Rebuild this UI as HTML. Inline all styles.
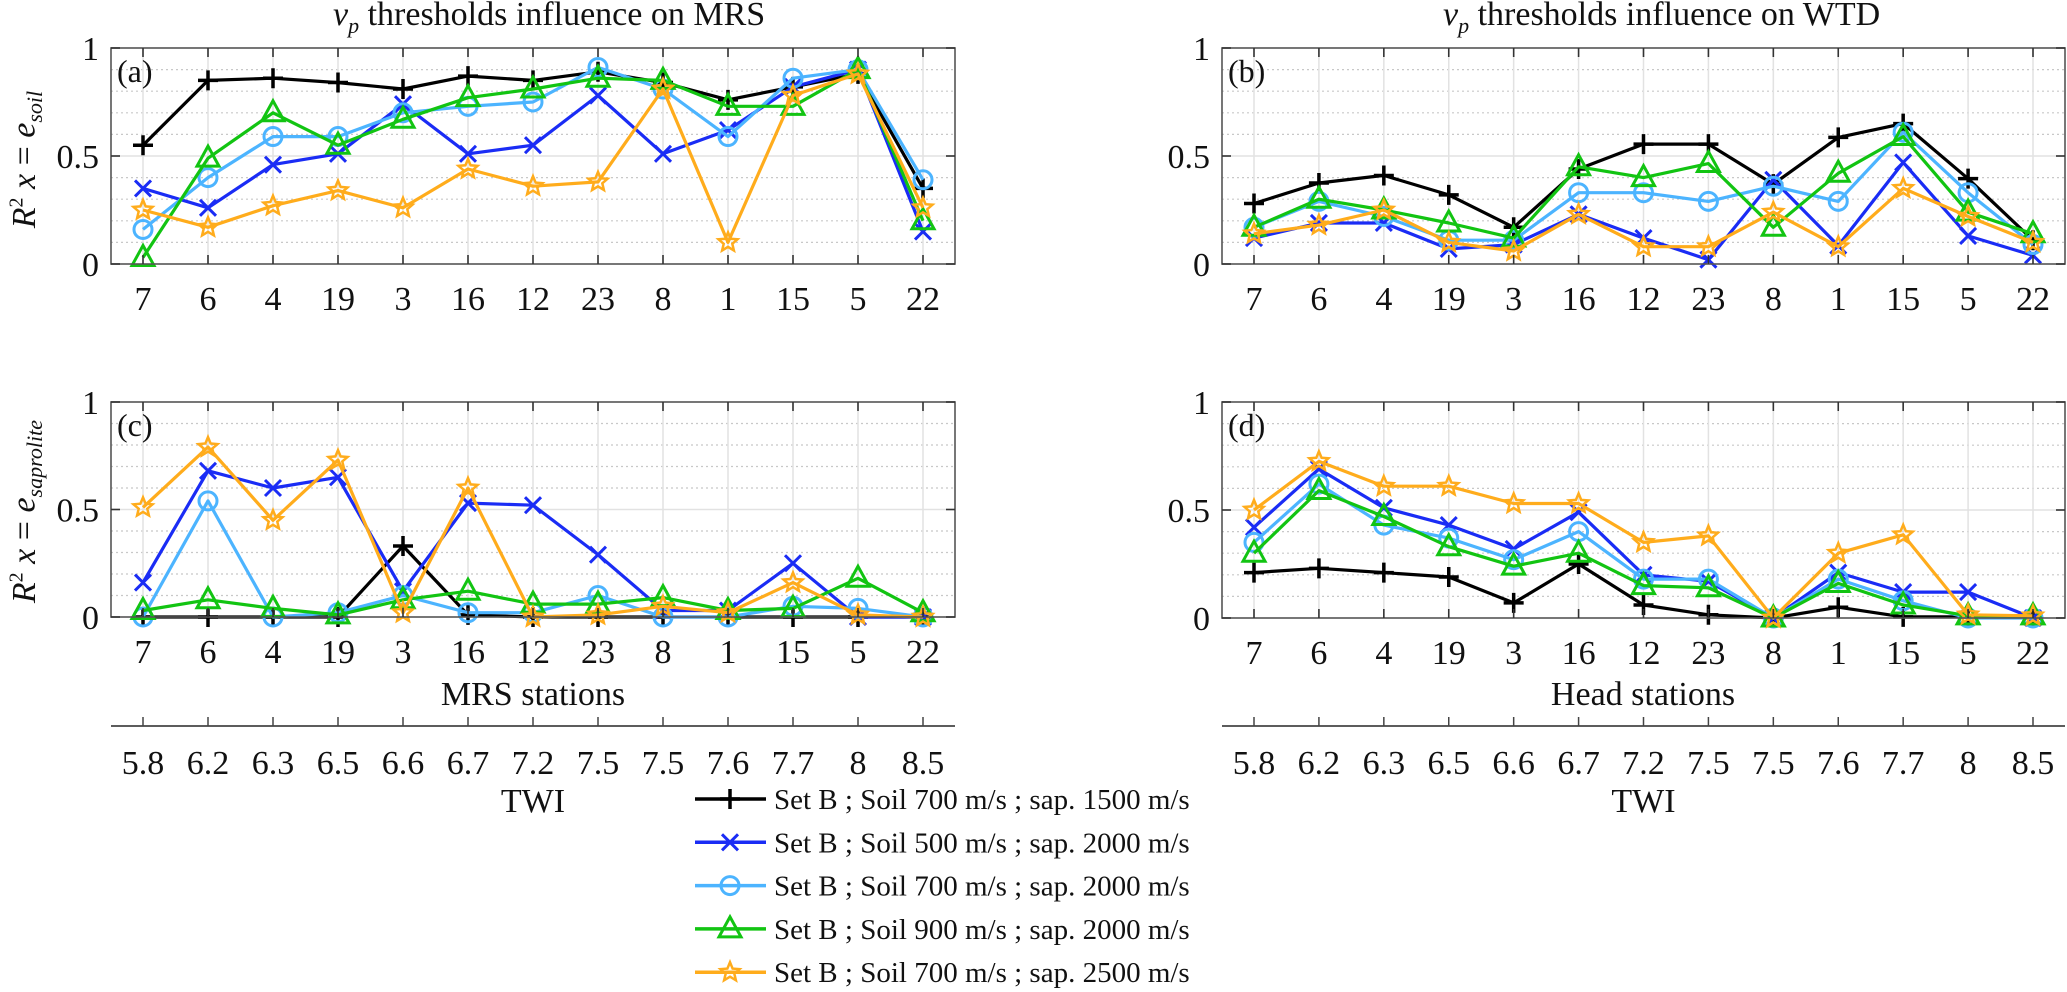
<!DOCTYPE html>
<html><head><meta charset="utf-8">
<style>
html,body{margin:0;padding:0;background:#fff;font-family:"Liberation Serif","Times New Roman","DejaVu Serif",serif;}
svg{display:block;}
svg text{font-family:"Liberation Serif","Times New Roman","DejaVu Serif",serif;}
.ov div{font-family:"Liberation Serif","Times New Roman","DejaVu Serif",serif;}
</style></head>
<body>
<svg id="fig" width="2067" height="992" viewBox="0 0 2067 992" xmlns="http://www.w3.org/2000/svg"></svg>
<script>
const stations = ['7','6','4','19','3','16','12','23','8','1','15','5','22'];
const twi = ['5.8','6.2','6.3','6.5','6.6','6.7','7.2','7.5','7.5','7.6','7.7','8','8.5'];
const yTicks = [0,0.5,1];
const yTickLabels = ['0','0.5','1'];
const seriesNames = ['Set B ; Soil 700 m/s ; sap. 1500 m/s','Set B ; Soil 500 m/s ; sap. 2000 m/s','Set B ; Soil 700 m/s ; sap. 2000 m/s','Set B ; Soil 900 m/s ; sap. 2000 m/s','Set B ; Soil 700 m/s ; sap. 2500 m/s'];
// panel a: MRS, soil
const aBlack = [0.55,0.85,0.86,0.84,0.81,0.87,0.85,0.89,0.84,0.76,0.82,0.88,0.35];
const aBlue  = [0.35,0.26,0.46,0.51,0.74,0.51,0.55,0.78,0.51,0.62,0.82,0.90,0.15];
const aLight = [0.16,0.40,0.59,0.59,0.70,0.73,0.75,0.91,0.81,0.59,0.86,0.90,0.39];
const aGreen = [0.03,0.49,0.70,0.55,0.67,0.77,0.81,0.86,0.85,0.73,0.73,0.90,0.20];
const aOrange= [0.25,0.17,0.27,0.34,0.26,0.44,0.36,0.38,0.81,0.10,0.78,0.88,0.26];
// panel b: WTD, soil
const bBlack = [0.28,0.375,0.41,0.32,0.17,0.44,0.555,0.555,0.37,0.586,0.65,0.395,0.11];
const bBlue  = [0.12,0.19,0.19,0.07,0.09,0.23,0.12,0.02,0.39,0.085,0.47,0.13,0.04];
const bLight = [0.17,0.29,0.22,0.11,0.11,0.33,0.33,0.29,0.36,0.29,0.61,0.33,0.09];
const bGreen = [0.17,0.30,0.25,0.19,0.12,0.45,0.40,0.465,0.17,0.42,0.59,0.24,0.14];
const bOrange= [0.14,0.18,0.25,0.10,0.06,0.23,0.08,0.08,0.24,0.08,0.35,0.22,0.10];
// panel c: MRS, saprolite
const cBlack = [0,0,0,0,0.33,0.01,0,0,0,0,0,0,0];
const cBlue  = [0.16,0.68,0.60,0.65,0.12,0.53,0.52,0.29,0.03,0.03,0.25,0.0,0.0];
const cLight = [0.0,0.54,0.0,0.02,0.10,0.02,0.02,0.10,0.0,0.0,0.05,0.04,0.0];
const cGreen = [0.03,0.08,0.04,0.01,0.08,0.12,0.06,0.06,0.09,0.03,0.04,0.18,0.02];
const cOrange= [0.51,0.79,0.45,0.73,0.02,0.60,0.0,0.01,0.05,0.02,0.16,0.01,0.0];
// panel d: WTD, saprolite
const dBlack = [0.21,0.23,0.21,0.19,0.07,0.25,0.06,0.015,0,0.05,0.005,0.005,0];
const dBlue  = [0.42,0.69,0.51,0.43,0.32,0.49,0.20,0.17,0,0.21,0.12,0.12,0];
const dLight = [0.35,0.62,0.43,0.37,0.27,0.40,0.18,0.18,0,0.18,0.08,0,0];
const dGreen = [0.30,0.59,0.47,0.33,0.24,0.30,0.15,0.14,0,0.16,0.06,0.01,0.01];
const dOrange= [0.50,0.725,0.61,0.61,0.53,0.53,0.35,0.38,0,0.30,0.385,0.015,0.01];

const colors=['#000000','#1a2cf5','#4cb4ff','#12c412','#ffac1c'];
const markers=['plus','x','circle','tri','star'];
const FONT='"Liberation Serif","Times New Roman","DejaVu Serif",serif';
const NS='http://www.w3.org/2000/svg';
const svg=document.getElementById('fig');
function el(tag,attrs,parent){const e=document.createElementNS(NS,tag);for(const k in attrs)e.setAttribute(k,attrs[k]);if(tag==='text'){e.setAttribute('font-family',FONT);e.style.fontFamily=FONT;}(parent||svg).appendChild(e);return e;}

function marker(g,type,cx,cy,col){
  const s=10;let m;
  if(type==='plus') m=el('path',{d:`M${cx-s} ${cy}H${cx+s}M${cx} ${cy-s}V${cy+s}`,stroke:col,'stroke-width':3.5,fill:'none'},g);
  else if(type==='x') m=el('path',{d:`M${cx-8} ${cy-8}L${cx+8} ${cy+8}M${cx-8} ${cy+8}L${cx+8} ${cy-8}`,stroke:col,'stroke-width':3,fill:'none'},g);
  else if(type==='circle') m=el('circle',{cx:cx,cy:cy,r:9,stroke:col,'stroke-width':3,fill:'none'},g);
  else if(type==='tri') m=el('path',{d:`M${cx} ${cy-12}L${cx+11} ${cy+8}L${cx-11} ${cy+8}Z`,stroke:col,'stroke-width':3,fill:'none'},g);
  else {let p='';for(let i=0;i<10;i++){const r=i%2?4.5:10;const a=-Math.PI/2+i*Math.PI/5;p+=(i?'L':'M')+(cx+r*Math.cos(a)).toFixed(1)+' '+(cy+r*Math.sin(a)).toFixed(1);}m=el('path',{d:p+'Z',stroke:col,'stroke-width':2.5,fill:'none'},g);}
  return m;
}

function panel(name,L,R,T,B,series,letter){
  const g=el('g',{});
  
  
  const x0=L+32, step=(R-L-64)/(stations.length-1);
  const xs=i=>x0+i*step;
  const ys=v=>B-(B-T)*v;
  for(let k=1;k<10;k++){if(k===5)continue;const y=ys(k/10);el('line',{x1:L,x2:R,y1:y,y2:y,stroke:'#c8c8c8','stroke-width':1.2,'stroke-dasharray':'2 3'},g);}
  stations.forEach((s,i)=>{el('line',{x1:xs(i),x2:xs(i),y1:T,y2:B,stroke:'#e2e2e2','stroke-width':1.5},g);});
  el('line',{x1:L,x2:R,y1:ys(0.5),y2:ys(0.5),stroke:'#e2e2e2','stroke-width':1.5},g);
  series.forEach((vals,si)=>{
    const sg=el('g',{},g);
    
    
    const pts=vals.map((v,i)=>xs(i).toFixed(1)+','+ys(v).toFixed(1)).join(' ');
    el('polyline',{points:pts,fill:'none',stroke:colors[si],'stroke-width':3.2,'stroke-linejoin':'round'},sg);
    vals.forEach((v,i)=>{const m=marker(sg,markers[si],xs(i),ys(v),colors[si]);
      
      });
  });
  el('rect',{x:L,y:T,width:R-L,height:B-T,fill:'none',stroke:'#555','stroke-width':1.6},g);
  stations.forEach((s,i)=>{
    el('line',{x1:xs(i),x2:xs(i),y1:B,y2:B-9,stroke:'#333','stroke-width':1.6},g);
    el('line',{x1:xs(i),x2:xs(i),y1:T,y2:T+9,stroke:'#333','stroke-width':1.6},g);
    const t=el('text',{x:xs(i),y:B+46,'font-size':34,'text-anchor':'middle',fill:'#111'},g);t.textContent=s;
    
    
  });
  yTicks.forEach((v,i)=>{
    el('line',{x1:L,x2:L+9,y1:ys(v),y2:ys(v),stroke:'#333','stroke-width':1.6},g);
    el('line',{x1:R,x2:R-9,y1:ys(v),y2:ys(v),stroke:'#333','stroke-width':1.6},g);
    const t=el('text',{x:L-12,y:ys(v)+12,'font-size':34,'text-anchor':'end',fill:'#111'},g);t.textContent=yTickLabels[i];
    
    
  });
  const pl=el('text',{x:L+6,y:T+34,'font-size':32,fill:'#111'},g);pl.textContent='('+letter+')';
  
  
  return {xs};
}

const pa=panel('panel-a-mrs-soil',111,955,48,264,[aBlack,aBlue,aLight,aGreen,aOrange],'a');
panel('panel-b-wtd-soil',1222,2065,48,264,[bBlack,bBlue,bLight,bGreen,bOrange],'b');
panel('panel-c-mrs-saprolite',111,955,402,617,[cBlack,cBlue,cLight,cGreen,cOrange],'c');
const pd=panel('panel-d-wtd-saprolite',1222,2065,402,618,[dBlack,dBlue,dLight,dGreen,dOrange],'d');

[[111,955,pa.xs,'twi-axis-left'],[1222,2065,pd.xs,'twi-axis-right']].forEach(([L,R,xs,nm])=>{
  const g=el('g',{});
  
  
  el('line',{x1:L,x2:R,y1:726,y2:726,stroke:'#444','stroke-width':1.8},g);
  twi.forEach((t,i)=>{el('line',{x1:xs(i),x2:xs(i),y1:717,y2:726,stroke:'#444','stroke-width':1.5},g);
    const tx=el('text',{x:xs(i),y:774,'font-size':34,'text-anchor':'middle',fill:'#111'},g);tx.textContent=t;
    
    });
  const tt=el('text',{x:(L+R)/2,y:812,'font-size':34,'text-anchor':'middle',fill:'#111'},g);tt.textContent='TWI';
  
  
});

const lg=el('g',{});


seriesNames.forEach((n,i)=>{
  const y=799+i*43.3;
  const eg=el('g',{},lg);
  
  
  el('line',{x1:695,x2:766,y1:y,y2:y,stroke:colors[i],'stroke-width':3.5},eg);
  marker(eg,markers[i],730,y,colors[i]);
  const t=el('text',{x:774,y:y+10,'font-size':29,fill:'#111'},eg);t.textContent=n;
});
</script>
<div class="ov" style="position:absolute;left:0;top:0;width:2067px;height:992px;pointer-events:none;color:#111;">
  <div style="position:absolute;left:333px;top:-4px;width:400px;text-align:center;font-size:34px;white-space:nowrap;"><i>v<sub style="font-size:22px">p</sub></i> thresholds influence on MRS</div>
  <div style="position:absolute;left:1443px;top:-4px;width:400px;text-align:center;font-size:34px;white-space:nowrap;"><i>v<sub style="font-size:22px">p</sub></i> thresholds influence on WTD</div>
  <div style="position:absolute;left:-78px;top:138px;width:210px;text-align:center;font-size:34px;white-space:nowrap;transform:rotate(-90deg);"><i>R</i><sup style="font-size:20px">2</sup> <i>x</i> = <i>e<sub style="font-size:22px">soil</sub></i></div>
  <div style="position:absolute;left:-113px;top:490px;width:280px;text-align:center;font-size:34px;white-space:nowrap;transform:rotate(-90deg);"><i>R</i><sup style="font-size:20px">2</sup> <i>x</i> = <i>e<sub style="font-size:22px">saprolite</sub></i></div>
  <div style="position:absolute;left:333px;top:676px;width:400px;text-align:center;font-size:34px;">MRS stations</div>
  <div style="position:absolute;left:1443px;top:676px;width:400px;text-align:center;font-size:34px;">Head stations</div>
</div>
</body></html>
